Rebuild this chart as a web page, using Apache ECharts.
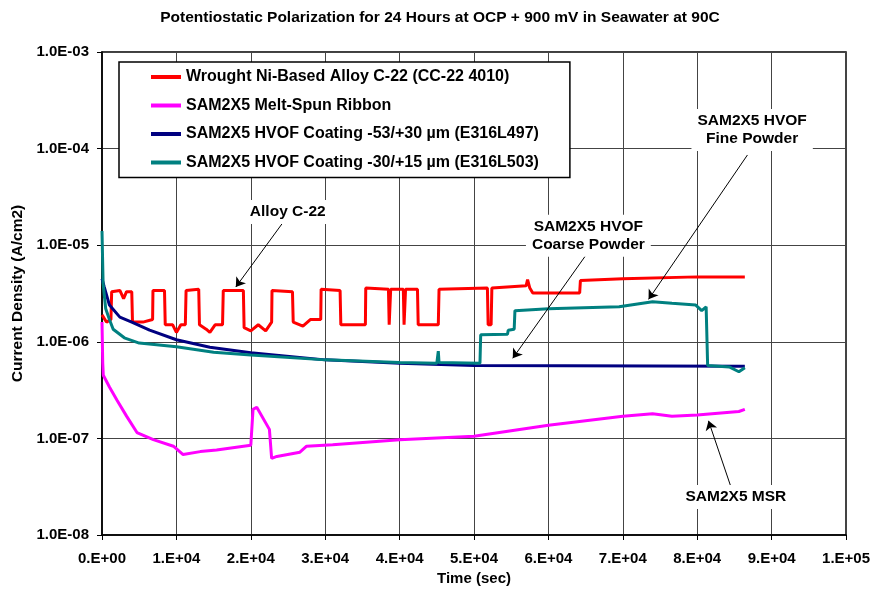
<!DOCTYPE html>
<html>
<head>
<meta charset="utf-8">
<title>Potentiostatic Polarization</title>
<script src="https://cdn.jsdelivr.net/npm/echarts@6/dist/echarts.min.js"></script>
<style>
  html, body { margin: 0; padding: 0; background: #fff; }
  #chart { width: 873px; height: 596px; }
</style>
</head>
<body>
<div id="chart"></div>
<script>
// time (sec), current density (A/cm2)
const alloyC22 = [
  [0, 1.9e-6], [600, 1.6e-6], [1200, 1.7e-6], [1300, 3.3e-6], [2400, 3.4e-6], [2900, 2.8e-6],
  [3300, 3.3e-6], [4000, 3.3e-6], [4100, 1.6e-6], [5500, 1.6e-6], [6800, 1.7e-6], [6850, 3.4e-6],
  [8400, 3.4e-6], [8500, 1.5e-6], [9500, 1.5e-6], [10000, 1.25e-6], [10600, 1.5e-6], [11200, 1.5e-6],
  [11300, 3.4e-6], [13000, 3.5e-6], [13100, 1.5e-6], [14000, 1.35e-6], [14500, 1.25e-6],
  [15200, 1.5e-6], [16200, 1.5e-6], [16300, 3.4e-6], [19000, 3.4e-6], [19100, 1.4e-6],
  [20000, 1.3e-6], [21000, 1.5e-6], [22000, 1.3e-6], [22800, 1.6e-6], [22850, 3.4e-6],
  [25600, 3.3e-6], [25700, 1.6e-6], [27000, 1.45e-6], [28000, 1.7e-6], [29400, 1.7e-6],
  [29450, 3.5e-6], [32000, 3.4e-6], [32100, 1.5e-6], [35400, 1.5e-6], [35450, 3.6e-6],
  [38500, 3.5e-6], [38600, 1.5e-6], [38800, 3.5e-6], [40500, 3.5e-6], [40600, 1.5e-6],
  [40800, 3.5e-6], [42400, 3.5e-6], [42500, 1.5e-6], [45200, 1.5e-6], [45300, 3.5e-6],
  [51800, 3.6e-6], [51900, 1.5e-6], [52300, 1.5e-6], [52400, 3.6e-6], [57000, 3.8e-6],
  [57200, 4.4e-6], [57500, 3.6e-6], [57900, 3.2e-6], [64200, 3.2e-6], [64300, 4.3e-6],
  [70000, 4.5e-6], [80000, 4.7e-6], [86400, 4.7e-6]
]
const meltSpun = [
  [0, 1.6e-6], [100, 6e-7], [175, 4.5e-7], [1000, 3.4e-7], [2000, 2.5e-7], [3300, 1.7e-7],
  [4700, 1.15e-7], [6900, 9.7e-8], [9600, 8.3e-8], [10900, 6.8e-8], [13200, 7.3e-8],
  [15400, 7.6e-8], [20000, 8.5e-8], [20300, 2.0e-7], [20800, 2.1e-7], [22500, 1.24e-7],
  [22800, 6.2e-8], [23500, 6.5e-8], [26600, 7.2e-8], [27500, 8.3e-8], [31000, 8.6e-8],
  [40000, 9.7e-8], [50000, 1.05e-7], [60000, 1.37e-7], [70000, 1.7e-7], [74000, 1.8e-7],
  [76600, 1.7e-7], [80000, 1.75e-7], [85600, 1.9e-7], [86400, 2.0e-7]
]
const coating497 = [
  [0, 4.5e-6], [300, 3.7e-6], [1000, 2.4e-6], [2400, 1.8e-6], [4000, 1.6e-6], [6400, 1.32e-6],
  [10000, 1.05e-6], [14500, 8.8e-7], [20000, 7.7e-7], [30000, 6.5e-7], [40000, 6.0e-7],
  [50000, 5.7e-7], [86400, 5.6e-7]
]
const coating503 = [
  [0, 1.4e-5], [150, 4e-6], [500, 2.2e-6], [1000, 1.7e-6], [1500, 1.35e-6], [3000, 1.1e-6],
  [5000, 9.7e-7], [10000, 8.9e-7], [15000, 7.8e-7], [20000, 7.3e-7], [30000, 6.5e-7],
  [40000, 6.1e-7], [45000, 6.0e-7], [45200, 8e-7], [45300, 6.1e-7], [50800, 6.0e-7],
  [50900, 1.18e-6], [54500, 1.2e-6], [54600, 1.32e-6], [55400, 1.35e-6], [55500, 2.1e-6],
  [60000, 2.2e-6], [69500, 2.3e-6], [74000, 2.6e-6], [76600, 2.5e-6], [79800, 2.4e-6],
  [80600, 2.1e-6], [81200, 2.3e-6], [81400, 5.7e-7], [84300, 5.5e-7], [85600, 4.9e-7],
  [86400, 5.4e-7]
]
const seriesNames = [
  'Wrought Ni-Based Alloy C-22 (CC-22 4010)',
  'SAM2X5 Melt-Spun Ribbon',
  'SAM2X5 HVOF Coating -53/+30 µm (E316L497)',
  'SAM2X5 HVOF Coating -30/+15 µm (E316L503)'
]
const seriesColors = ['#ff0000', '#ff00ff', '#000080', '#008080']

// callouts: text position and arrow [from, to]
const notes = [
  { text: 'Alloy C-22', at: [24966, 2.21e-5], arrow: [[24564, 1.82e-5], [17987, 3.69e-6]] },
  { text: 'SAM2X5 HVOF\nCoarse Powder', at: [65369, 1.25e-5], arrow: [[65060, 7.92e-6], [55208, 6.75e-7]] },
  { text: 'SAM2X5 HVOF\nFine Powder', at: [87383, 1.56e-4], arrow: [[86752, 8.59e-5], [73463, 2.75e-6]] },
  { text: 'SAM2X5 MSR', at: [85195, 2.47e-8], arrow: [[84523, 3.16e-8], [81517, 1.52e-7]] }
]

const font = 'Liberation Sans, Arial, sans-serif'

function xFmt(v) {
  let p = v.toExponential(0).split('e')
  let e = parseInt(p[1], 10)
  return p[0] + '.E' + (e < 0 ? '-' : '+') + String(Math.abs(e)).padStart(2, '0')
}
function yFmt(v) {
  let p = v.toExponential(1).split('e')
  let e = parseInt(p[1], 10)
  return p[0] + 'E' + (e < 0 ? '-' : '+') + String(Math.abs(e)).padStart(2, '0')
}

const chart = echarts.init(document.getElementById('chart'))
const datasets = [alloyC22, meltSpun, coating497, coating503]

let series = datasets.map((d, i) => ({
  name: seriesNames[i],
  type: 'line',
  data: d,
  symbol: 'none',
  lineStyle: { color: seriesColors[i], width: 3 },
  itemStyle: { color: seriesColors[i] },
  animation: false
}))

// callout arrows and texts on a helper series
series.push({
  type: 'line',
  data: [],
  silent: true,
  markLine: {
    silent: true,
    symbol: ['none', 'arrow'],
    symbolSize: 9,
    label: { show: false },
    lineStyle: { color: '#000', width: 1, type: 'solid' },
    data: notes.map(n => [{ coord: n.arrow[0] }, { coord: n.arrow[1] }]),
    animation: false
  },
  markPoint: {
    symbol: 'rect',
    symbolSize: 1,
    itemStyle: { color: 'rgba(0,0,0,0)' },
    label: {
      show: true,
      position: 'inside',
      formatter: p => p.name,
      color: '#000',
      fontFamily: font,
      fontWeight: 'bold',
      fontSize: 15.5,
      lineHeight: 18,
      align: 'center',
      backgroundColor: '#fff',
      padding: [3, 6]
    },
    data: notes.map(n => ({ name: n.text, coord: n.at })),
    animation: false
  }
})

let option = {
  backgroundColor: '#fff',
  animation: false,
  title: {
    text: 'Potentiostatic Polarization for 24 Hours at OCP + 900 mV in Seawater at 90C',
    left: 435,
    textAlign: 'center',
    top: 5,
    textStyle: { fontFamily: font, fontWeight: 'bold', fontSize: 15.5, color: '#000' }
  },
  legend: {
    data: seriesNames,
    orient: 'vertical',
    left: 119,
    top: 62,
    padding: [7, 31, 7, 32],
    itemGap: 12.5,
    itemWidth: 30,
    itemHeight: 4,
    icon: 'rect',
    backgroundColor: '#fff',
    borderColor: '#000',
    borderWidth: 1.5,
    borderRadius: 0,
    textStyle: { fontFamily: font, fontWeight: 'bold', fontSize: 16, color: '#000' },
    z: 10
  },
  grid: {
    left: 102,
    right: 26,
    top: 52,
    bottom: 61,
    show: true,
    borderColor: '#000',
    borderWidth: 1.5,
    backgroundColor: 'rgba(0,0,0,0)'
  },
  xAxis: {
    type: 'value',
    min: 0,
    max: 100000,
    interval: 10000,
    name: 'Time (sec)',
    nameLocation: 'middle',
    nameGap: 35,
    nameTextStyle: { fontFamily: font, fontWeight: 'bold', fontSize: 15, color: '#000' },
    axisLine: { onZero: false, lineStyle: { color: '#000', width: 1.5 } },
    axisTick: { show: true, length: 5, lineStyle: { color: '#000' } },
    axisLabel: { formatter: xFmt, margin: 16, fontFamily: font, fontWeight: 'bold', fontSize: 15, color: '#000' },
    splitLine: { show: true, lineStyle: { color: '#444', width: 1 } }
  },
  yAxis: {
    type: 'log',
    logBase: 10,
    min: 1e-8,
    max: 1e-3,
    name: 'Current Density (A/cm2)',
    nameLocation: 'middle',
    nameGap: 76,
    nameTextStyle: { fontFamily: font, fontWeight: 'bold', fontSize: 15.5, color: '#000' },
    axisLine: { show: true, lineStyle: { color: '#000', width: 1.5 } },
    axisTick: { show: true, length: 5, lineStyle: { color: '#000' } },
    axisLabel: { formatter: yFmt, margin: 13, fontFamily: font, fontWeight: 'bold', fontSize: 15, color: '#000' },
    splitLine: { show: true, lineStyle: { color: '#444', width: 1 } },
    minorTick: { show: false },
    minorSplitLine: { show: false }
  },
  series: series
}

chart.setOption(option)
</script>
</body>
</html>
